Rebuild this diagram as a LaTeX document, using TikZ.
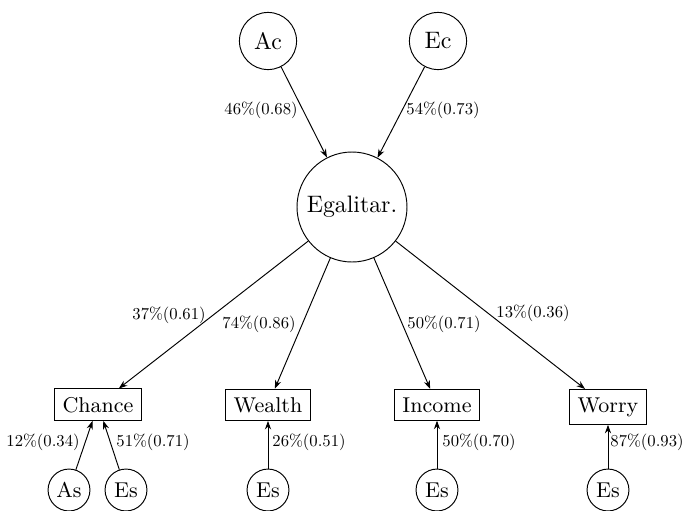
\documentclass[tikz,border=0pt]{standalone}
\usetikzlibrary{arrows.meta}
\newcommand{\lbltxt}[1]{\scalebox{0.7}{#1}}
\begin{document}
\begin{tikzpicture}[x=0.42pt,y=-0.42pt,
  big/.style={circle,draw,minimum size=24pt,inner sep=1pt,font=\normalsize},
  latent/.style={circle,draw,minimum size=46.2pt,inner sep=1pt,font=\normalsize},
  errc/.style={circle,draw,minimum size=17.6pt,inner sep=1pt,font=\small},
  obs/.style={rectangle,draw,font=\small,anchor=base},
  lbl/.style={font=\normalsize,inner sep=0pt},
  arr/.style={-{Stealth[length=3.6pt,width=2.6pt]}}]
\useasboundingbox (0,0) rectangle (684,511);
\node[big] (ac) at (268,41) {Ac};
\node[big] (ec) at (438,41) {Ec};
\node[latent] (eg) at (352,207) {Egalitar.};
\node[obs] (chance) at (98,412) {Chance};
\node[obs] (wealth) at (268,412) {Wealth};
\node[obs] (income) at (437,412) {Income};
\node[obs] (worry) at (608,412) {Worry};
\node[errc] (as) at (69,490) {As};
\node[errc] (es1) at (126,490) {Es};
\node[errc] (es2) at (268,490) {Es};
\node[errc] (es3) at (437,490) {Es};
\node[errc] (es4) at (608,490) {Es};
\draw[arr] (ac) -- (eg);
\draw[arr] (ec) -- (eg);
\draw[arr] (eg) -- (chance);
\draw[arr] (eg) -- (wealth);
\draw[arr] (eg) -- (income);
\draw[arr] (eg) -- (worry);
\draw[arr] (as) -- (chance);
\draw[arr] (es1) -- (chance);
\draw[arr] (es2) -- (wealth);
\draw[arr] (es3) -- (income);
\draw[arr] (es4) -- (worry);
\node[lbl] (l1) at (261,110) {\lbltxt{46\%(0.68)}};
\node[lbl] (l2) at (443,110) {\lbltxt{54\%(0.73)}};
\node[lbl] (l3) at (169,315) {\lbltxt{37\%(0.61)}};
\node[lbl] (l4) at (259,324) {\lbltxt{74\%(0.86)}};
\node[lbl] (l5) at (444,324) {\lbltxt{50\%(0.71)}};
\node[lbl] (l6) at (533,313) {\lbltxt{13\%(0.36)}};
\node[lbl] (l7) at (43,442) {\lbltxt{12\%(0.34)}};
\node[lbl] (l8) at (153,442) {\lbltxt{51\%(0.71)}};
\node[lbl] (l9) at (309,442) {\lbltxt{26\%(0.51)}};
\node[lbl] (l10) at (479,442) {\lbltxt{50\%(0.70)}};
\node[lbl] (l11) at (647,442) {\lbltxt{87\%(0.93)}};
\end{tikzpicture}
\end{document}
